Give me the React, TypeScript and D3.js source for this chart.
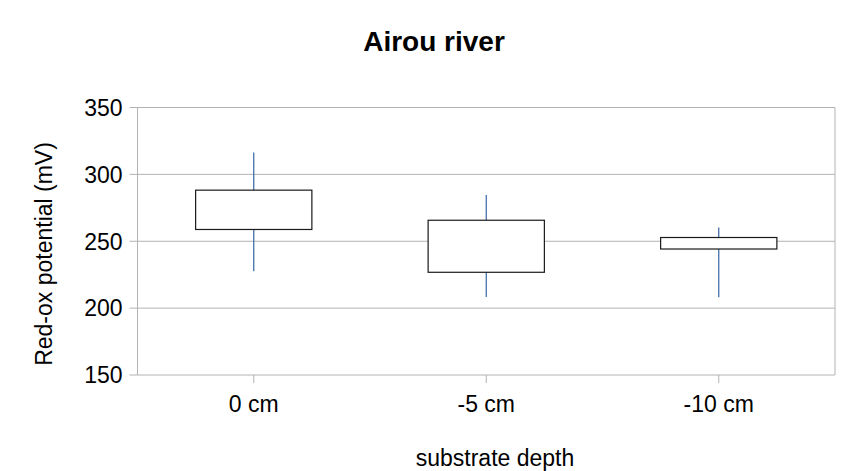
import { useEffect, useRef } from 'react'
import * as d3 from 'd3'

const categories = ['0 cm', '-5 cm', '-10 cm']
const lows = [227.5, 208.3, 208.1]
const boxLows = [258.8, 226.8, 244.2]
const boxHighs = [288.2, 265.7, 252.8]
const highs = [316.4, 284.5, 260.3]
const yTicks = [150, 200, 250, 300, 350]

export default function App() {
  const ref = useRef<SVGSVGElement | null>(null)
  useEffect(() => {
    const width = 847
    const height = 471
    const margin = { top: 107.5, right: 12, bottom: 96, left: 137.5 }
    const svg = d3.select(ref.current)
    svg.selectAll('*').remove()
    svg.attr('width', width).attr('height', height)
    const font = '"Liberation Sans", Arial, sans-serif'

    const x = d3.scaleBand().domain(categories).range([margin.left, width - margin.right])
    const y = d3.scaleLinear().domain([150, 350]).range([height - margin.bottom, margin.top])
    const cx = (d: string) => x(d)! + x.bandwidth() / 2

    // gridlines
    svg.append('g').selectAll('line').data(yTicks).join('line')
      .attr('x1', margin.left - 8).attr('x2', width - margin.right)
      .attr('y1', d => y(d)).attr('y2', d => y(d))
      .attr('stroke', '#b3b3b3').attr('stroke-width', 1)

    // axis lines
    svg.append('line')
      .attr('x1', margin.left).attr('x2', margin.left)
      .attr('y1', y(350)).attr('y2', y(150))
      .attr('stroke', '#b3b3b3')
    svg.append('line')
      .attr('x1', width - margin.right).attr('x2', width - margin.right)
      .attr('y1', y(350)).attr('y2', y(150))
      .attr('stroke', '#b3b3b3')
    svg.append('g').selectAll('line').data(categories).join('line')
      .attr('x1', cx).attr('x2', cx)
      .attr('y1', y(150)).attr('y2', y(150) + 8)
      .attr('stroke', '#b3b3b3')

    // y tick labels
    svg.append('g').selectAll('text').data(yTicks).join('text')
      .attr('x', margin.left - 15).attr('y', d => y(d))
      .attr('dy', '0.36em')
      .attr('text-anchor', 'end')
      .style('font-family', font).style('font-size', '23px')
      .text(d => d)

    // x tick labels
    svg.append('g').selectAll('text').data(categories).join('text')
      .attr('x', cx).attr('y', y(150) + 37)
      .attr('text-anchor', 'middle')
      .style('font-family', font).style('font-size', '23px')
      .text(d => d)

    // whiskers
    const bw = x.bandwidth() / 2
    svg.append('g').selectAll('line').data(categories).join('line')
      .attr('x1', cx).attr('x2', cx)
      .attr('y1', (_, i) => y(highs[i])).attr('y2', (_, i) => y(lows[i]))
      .attr('stroke', '#3465a4').attr('stroke-width', 1.2)

    // boxes
    svg.append('g').selectAll('rect').data(categories).join('rect')
      .attr('x', d => cx(d) - bw / 2)
      .attr('width', bw)
      .attr('y', (_, i) => y(boxHighs[i]))
      .attr('height', (_, i) => y(boxLows[i]) - y(boxHighs[i]))
      .attr('fill', '#ffffff').attr('stroke', '#1a1a1a').attr('stroke-width', 1.2)

    // titles
    svg.append('text')
      .attr('x', 434).attr('y', 51)
      .attr('text-anchor', 'middle')
      .style('font-family', font).style('font-size', '28px').style('font-weight', 'bold')
      .text('Airou river')
    svg.append('text')
      .attr('x', 495).attr('y', 466)
      .attr('text-anchor', 'middle')
      .style('font-family', font).style('font-size', '23px')
      .text('substrate depth')
    svg.append('text')
      .attr('transform', `translate(52,254) rotate(-90)`)
      .attr('text-anchor', 'middle')
      .style('font-family', font).style('font-size', '23px')
      .text('Red-ox potential (mV)')
  }, [])

  return <svg ref={ref} style={{ position: 'absolute', left: 0, top: 0 }} />
}
